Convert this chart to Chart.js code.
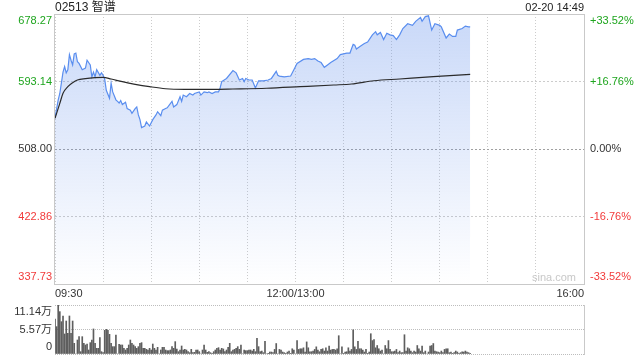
<!DOCTYPE html>
<html>
<head>
<meta charset="utf-8">
<script src="https://cdn.jsdelivr.net/npm/chart.js@4.4.1/dist/chart.umd.min.js"></script>
<style>
  body { margin: 0; background: #fff; }
  #wrap { position: relative; width: 640px; height: 360px; overflow: hidden;
          font-family: "Liberation Sans", Arial, "Noto Sans CJK SC", sans-serif; }
  canvas { position: absolute; left: 0; }
  #priceChart { top: 0; }
  #volChart { top: 300px; }
  #title { position: absolute; left: 55px; top: 0; font-size: 12px; line-height: 15px; color: #222; }
  #stamp { position: absolute; right: 56px; top: 0; font-size: 11px; line-height: 15px; color: #222; }
  #mark { position: absolute; left: 532px; top: 271px; font-size: 11px; color: #c8c8c8; }
</style>
</head>
<body>
<div id="wrap">
  <canvas id="priceChart" width="640" height="300"></canvas>
  <canvas id="volChart" width="640" height="60"></canvas>
  <div id="title">02513 智谱</div>
  <div id="stamp">02-20 14:49</div>
  <div id="mark">sina.com</div>
</div>
<script>
// minutes since 09:30 (lunch break removed, 330 = 16:00)
const priceMinutes = [0, 2, 3, 5, 6, 7, 8, 9, 10, 11, 12, 13, 14, 15, 17, 19, 20, 22, 23, 24, 25, 26, 28, 29, 30,
  31, 32, 34, 35, 36, 38, 39, 40, 41, 42, 44, 45, 47, 48, 50, 51, 52, 53, 54, 56, 57, 59, 61, 63, 64, 66, 67, 69, 70,
  73, 74, 76, 78, 79, 80, 82, 84, 86, 87, 90, 91, 93, 95, 96, 98, 100, 102, 103, 104, 107, 111, 113, 115, 117, 118,
  119, 121, 123, 125, 127, 130, 133, 135, 138, 139, 140, 143, 147, 149, 151, 155, 158, 160, 162, 164, 166, 168, 170,
  172, 176, 178, 182, 184, 186, 187, 188, 190, 193, 195, 198, 200, 201, 203, 205, 207, 209, 211, 213, 215, 217, 220,
  223, 225, 228, 229, 231, 233, 235, 237, 240, 241, 244, 246, 248, 250, 251, 254, 256, 258, 259];
const prices = [547, 570, 578, 605, 612, 604, 608, 627, 620, 614, 628, 629, 618, 616, 608, 610, 620, 614, 599, 605, 599, 608, 601, 604, 601,
  596, 582, 572, 591, 580, 570, 568, 566, 569, 564, 567, 559, 557, 553, 559, 561, 551, 545, 535, 537, 542, 537, 545, 551, 555, 550, 557, 559, 560,
  568, 561, 564, 574, 568, 576, 574, 578, 576, 578, 580, 576, 580, 579, 580, 578, 580, 580, 585, 593, 597, 607, 604, 595, 597, 593,
  597, 595, 595, 585, 594, 594, 595, 597, 606, 601, 600, 599, 600, 608, 616, 621, 622, 621, 622, 619, 617, 611, 614,
  617, 622, 627, 629, 629, 640, 639, 634, 637, 641, 643, 652, 656, 652, 655, 646, 654, 652, 651, 646, 652, 660, 666,
  664, 669, 674, 669, 675, 676, 658, 666, 664, 662, 648, 653, 650, 650, 658, 660, 663, 662, 662];

const avgMinutes = [0, 3, 5, 8, 11, 14, 19, 25, 30, 35, 42, 50, 59, 69, 81, 98, 111, 132, 153, 174, 185, 199, 215, 236, 259];
const avgPrices = [546.7, 565.6, 578.3, 586.6, 591.6, 595.0, 596.7, 597.9, 598.4, 596.3, 592.9, 589.6, 586.6, 584.0,
  583.3, 583.3, 583.7, 584.6, 586.6, 588.7, 590.0, 594.1, 596.3, 599.2, 602.2];

// volume per minute, in 万 shares, index = minutes since 09:30
const volumes = [
  7.96, 6.22, 11.14, 9.63, 7.35, 8.64, 4.55, 7.50, 4.70, 8.64,
  4.70, 7.50, 2.43, 0, 3.18, 3.94, 0.53, 3.94, 2.43, 2.05,
  2.27, 0.91, 2.58, 3.18, 5.69, 2.43, 1.29, 1.29, 3.71, 0.53,
  0.30, 5.38, 5.61, 5.38, 4.47, 2.43, 1.67, 1.67, 4.32, 0,
  2.20, 2.05, 2.05, 1.29, 0.91, 1.29, 2.05, 3.18, 2.43, 2.05,
  1.67, 1.29, 1.67, 2.43, 2.58, 1.29, 1.29, 1.06, 0.91, 1.29,
  0.91, 2.27, 1.29, 0.91, 1.52, 0, 0.91, 1.52, 1.52, 0.91,
  0.76, 0.76, 0.91, 1.67, 1.29, 2.81, 1.14, 0.53, 0.91, 1.82,
  0.91, 1.06, 0.91, 0.53, 0.30, 1.06, 0.30, 0.38, 0.91, 0.91,
  0.53, 0, 0.91, 2.05, 0.91, 0.38, 0.53, 0.30, 0.15, 0.53,
  0.91, 1.29, 1.44, 0.91, 1.29, 1.14, 0.53, 0.91, 1.52, 2.43,
  0.53, 0.91, 1.06, 1.29, 1.67, 1.06, 2.05, 0, 0.91, 0.76,
  0.76, 0.91, 0.91, 0.68, 1.06, 0.53, 3.56, 1.67, 0.53, 0.67,
  0.30, 2.90, 0, 0.15, 0.45, 0.45, 0.30, 1.04, 2.38, 0,
  1.04, 0.89, 0.45, 0.30, 0.05, 0.45, 0.67, 0.15, 1.19, 0.89,
  0, 3.05, 1.04, 1.19, 1.19, 1.41, 0.45, 2.75, 1.41, 0.52,
  0.52, 0.67, 1.04, 1.63, 0.89, 0.52, 1.04, 1.19, 0.67, 1.41,
  0.67, 1.78, 0.89, 1.04, 1.04, 0.89, 1.19, 4.16, 0, 1.63,
  0.15, 0.45, 0.52, 1.41, 0.67, 1.04, 5.50, 1.63, 1.04, 2.90,
  1.19, 1.19, 0.89, 0.45, 1.04, 0.15, 0.45, 4.61, 3.05, 3.27,
  1.41, 1.93, 1.19, 0.67, 0.89, 0, 1.93, 1.19, 3.05, 1.04,
  0.52, 0.52, 0.67, 1.04, 0.30, 0.67, 0.30, 0.30, 4.38, 0.67,
  1.41, 1.19, 0.67, 0.30, 0.67, 0.45, 1.93, 1.19, 0.67, 1.78,
  0.30, 0.67, 0, 0.45, 1.78, 1.93, 2.38, 0.67, 0.52, 0.45,
  0.30, 0.67, 0.30, 1.04, 1.19, 1.19, 0.30, 0.45, 0.15, 0.30,
  0.67, 0.45, 0.15, 0.30, 0.52, 0.45, 0.67, 0.45, 0.30, 0.15
];

const prevClose = 508.00;
const priceTicks = [337.73, 422.86, 508.00, 593.14, 678.27];
const pctLabels = ["-33.52%", "-16.76%", "0.00%", "+16.76%", "+33.52%"];
const timeTicks = [0, 30, 60, 90, 120, 150, 180, 210, 240, 270, 300, 330];
const timeLabels = ["09:30", "", "", "", "", "12:00/13:00", "", "", "", "", "", "16:00"];
const volTicks = [0, 5.57, 11.14];
const volLabels = ["0", "5.57万", "11.14万"];

const GREEN = "#1ea51e";
const RED = "#f23a3a";
const DARK = "#333";
const FONT = { family: '"Liberation Sans", Arial, "Noto Sans CJK SC", sans-serif', size: 11, lineHeight: 1.2 };

// first label sits above its tick, last one below, like the original
function edgeLabel(text, index, count) {
    if (index === 0) return [text, ""];
    if (index === count - 1) return ["", text];
    return text;
}

function priceColor(v) {
    if (v > prevClose + 0.001) return GREEN;
    if (v < prevClose - 0.001) return RED;
    return DARK;
}

const priceFrame = {
    id: "priceFrame",
    beforeDatasetsDraw(chart) {
        const { ctx, chartArea: a } = chart;
        ctx.save();
        ctx.strokeStyle = "#c9c9c9";
        ctx.lineWidth = 1;
        ctx.strokeRect(a.left - 0.5, a.top + 0.5, a.right - a.left + 1, a.bottom - a.top);
        ctx.restore();
    },
};

const volFrame = {
    id: "volFrame",
    afterDatasetsDraw(chart) {
        const { ctx, chartArea: a } = chart;
        ctx.save();
        ctx.strokeStyle = "#c9c9c9";
        ctx.lineWidth = 1;
        ctx.beginPath();
        ctx.moveTo(a.right + 0.5, a.top);
        ctx.lineTo(a.right + 0.5, a.bottom + 1);
        ctx.stroke();
        ctx.restore();
    },
};

new Chart(document.getElementById("priceChart"), {
    type: "line",
    data: {
        datasets: [
            {
                label: "price",
                data: priceMinutes.map((m, i) => ({ x: m, y: prices[i] })),
                borderColor: "#5a8eef",
                borderWidth: 1.2,
                pointRadius: 0,
                tension: 0,
                fill: "start",
                order: 2,
                backgroundColor: (c) => {
                    const area = c.chart.chartArea;
                    if (!area) return "rgba(110,150,235,0.3)";
                    const g = c.chart.ctx.createLinearGradient(0, area.top, 0, area.bottom);
                    g.addColorStop(0, "rgba(105,148,236,0.36)");
                    g.addColorStop(1, "rgba(105,148,236,0)");
                    return g;
                },
            },
            {
                label: "avg",
                data: avgMinutes.map((m, i) => ({ x: m, y: avgPrices[i] })),
                borderColor: "#2b2b2b",
                borderWidth: 1.2,
                pointRadius: 0,
                cubicInterpolationMode: "monotone",
                fill: false,
                order: 1,
            },
        ],
    },
    options: {
        responsive: false,
        animation: false,
        events: [],
        layout: { padding: { top: 14, left: 0, right: 0, bottom: 0 } },
        plugins: { legend: { display: false }, tooltip: { enabled: false } },
        scales: {
            x: {
                type: "linear",
                min: 0,
                max: 330,
                afterBuildTicks: (s) => { s.ticks = timeTicks.map((v) => ({ value: v })); },
                afterFit: (s) => { s.height = 16; s.paddingLeft = 0; s.paddingRight = 0; },
                grid: { color: "#cccccc", drawTicks: false },
                border: { display: false, dash: [1, 2] },
                ticks: {
                    align: "inner",
                    padding: 3,
                    autoSkip: false,
                    maxRotation: 0,
                    color: DARK,
                    font: FONT,
                    callback: (v) => timeLabels[timeTicks.indexOf(v)],
                },
            },
            y: {
                position: "left",
                min: priceTicks[0],
                max: priceTicks[priceTicks.length - 1],
                afterBuildTicks: (s) => { s.ticks = priceTicks.map((v) => ({ value: v })); },
                afterFit: (s) => { s.width = 55; s.paddingTop = 0; s.paddingBottom = 0; },
                grid: {
                    color: (c) => (c.tick && c.tick.value === prevClose ? "#a0a0a0" : "#cccccc"),
                    drawTicks: false,
                },
                border: { display: false, dash: [2, 2] },
                ticks: {
                    padding: 3,
                    autoSkip: false,
                    font: FONT,
                    color: (c) => priceColor(c.tick.value),
                    callback: (v, i, t) => edgeLabel(v.toFixed(2), i, t.length),
                },
            },
            y2: {
                position: "right",
                min: priceTicks[0],
                max: priceTicks[priceTicks.length - 1],
                afterBuildTicks: (s) => { s.ticks = priceTicks.map((v) => ({ value: v })); },
                afterFit: (s) => { s.width = 56; s.paddingTop = 0; s.paddingBottom = 0; },
                grid: { display: false, drawTicks: false },
                border: { display: false },
                ticks: {
                    padding: 6,
                    autoSkip: false,
                    font: FONT,
                    color: (c) => priceColor(c.tick.value),
                    callback: (v, i, t) => edgeLabel(pctLabels[i], i, t.length),
                },
            },
        },
    },
    plugins: [priceFrame],
});

new Chart(document.getElementById("volChart"), {
    type: "bar",
    data: {
        datasets: [
            {
                label: "volume",
                data: volumes.map((v, i) => ({ x: i, y: v })),
                backgroundColor: "#5e5e5e",
                barThickness: 1,
            },
        ],
    },
    options: {
        responsive: false,
        animation: false,
        events: [],
        layout: { padding: { top: 5, left: 0, right: 56, bottom: 6 } },
        plugins: { legend: { display: false }, tooltip: { enabled: false } },
        scales: {
            x: { type: "linear", min: 0, max: 330, offset: false, display: false },
            y: {
                min: volTicks[0],
                max: volTicks[volTicks.length - 1],
                afterBuildTicks: (s) => { s.ticks = volTicks.map((v) => ({ value: v })); },
                afterFit: (s) => { s.width = 55; s.paddingTop = 0; s.paddingBottom = 0; },
                grid: { color: "#bdbdbd", drawTicks: false },
                border: { display: false, dash: [1, 1] },
                ticks: {
                    padding: 3,
                    autoSkip: false,
                    font: FONT,
                    color: DARK,
                    callback: (v, i, t) => edgeLabel(volLabels[i], i, t.length),
                },
            },
        },
    },
    plugins: [volFrame],
});
</script>
</body>
</html>
